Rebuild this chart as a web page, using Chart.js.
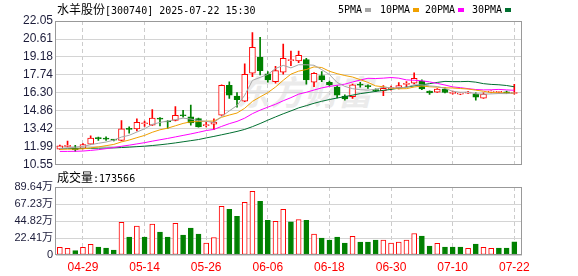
<!DOCTYPE html>
<html>
<head>
<meta charset="utf-8">
<script src="https://cdn.jsdelivr.net/npm/chart.js@4.4.1/dist/chart.umd.min.js"></script>
<style>
    body { margin: 0; background: #fff; width: 578px; height: 276px; overflow: hidden; position: relative; }
    canvas { position: absolute; left: 0; }
    #price { top: 0; }
    #vol { top: 170px; }
    .txt { position: absolute; font: 10px 'DejaVu Sans Mono', monospace; color: #000; white-space: pre; line-height: 12px; }
    .cn { font-family: 'Noto Sans CJK SC'; font-size: 12px; }
    .sw { position: absolute; width: 6px; height: 4px; }
    #mark { position: absolute; left: 236px; top: 66px; font: italic bold 34px 'Noto Sans CJK SC'; color: #ebebeb; white-space: nowrap; }
</style>
</head>
<body>
<div id="mark">东方财富</div>
<canvas id="price" width="578" height="175"></canvas>
<canvas id="vol" width="578" height="106"></canvas>
<div class="txt" style="left:57px;top:3px"><span class="cn">水羊股份</span>[300740] 2025-07-22 15:30</div>
<div class="txt" style="left:57px;top:171px"><span class="cn">成交量</span>:173566</div>
<div id="legend"></div>

<script>
/* trading days shown */
const dates = ['04-24','04-25','04-28','04-29','04-30','05-06','05-07','05-08','05-09','05-12',
    '05-13','05-14','05-15','05-16','05-19','05-20','05-21','05-22','05-23','05-26',
    '05-27','05-28','05-29','05-30','06-03','06-04','06-05','06-06','06-09','06-10',
    '06-11','06-12','06-13','06-16','06-17','06-18','06-19','06-20','06-23','06-24',
    '06-25','06-26','06-27','06-30','07-01','07-02','07-03','07-04','07-07','07-08',
    '07-09','07-10','07-11','07-14','07-15','07-16','07-17','07-18','07-21','07-22'];
const tickDates = ['04-29','05-14','05-26','06-06','06-18','06-30','07-10','07-22'];

/* daily prices */
const opens = [11.80,12.02,11.88,11.85,12.20,12.67,12.64,12.55,12.50,13.45,
    13.42,13.83,13.72,14.25,14.05,14.09,14.52,14.38,14.25,13.68,
    13.80,14.52,16.91,16.05,15.64,17.87,19.15,17.82,17.20,17.95,
    18.88,18.85,18.96,17.15,17.68,17.15,16.77,16.05,16.00,17.00,
    16.85,16.55,16.46,16.64,16.67,16.98,17.07,17.25,16.45,16.36,
    16.60,16.26,16.20,16.28,16.21,15.88,16.36,16.34,16.38,16.25];
const closes = [12.07,12.10,11.76,12.17,12.68,12.64,12.60,12.52,13.42,13.38,
    13.95,13.87,14.28,14.20,13.97,14.50,14.47,13.90,13.58,13.72,
    13.96,16.91,16.12,15.75,17.79,19.95,18.08,17.34,18.08,19.07,
    18.94,19.31,17.34,17.87,17.36,16.95,16.12,15.82,16.95,16.92,
    16.80,16.48,16.66,16.70,16.88,17.05,17.47,16.62,16.30,16.60,
    16.33,16.30,16.22,16.34,15.95,16.20,16.40,16.36,16.30,16.27];
const highs = [12.12,12.45,12.10,12.25,12.87,12.76,12.78,12.58,14.08,13.58,
    14.22,14.05,14.97,14.33,14.08,15.20,14.90,15.33,14.28,13.95,
    14.22,16.95,17.18,16.32,18.62,21.12,20.75,18.00,18.43,20.21,
    19.65,19.65,19.07,17.92,18.00,17.25,16.88,16.14,17.00,17.15,
    16.95,16.62,16.88,16.85,17.12,17.20,17.90,17.35,16.47,16.65,
    16.70,16.45,16.30,16.42,16.30,16.30,16.46,16.43,16.45,16.98];
const lows = [11.78,11.98,11.62,11.82,12.18,12.50,12.50,12.45,12.45,13.08,
    13.25,13.62,13.70,13.66,13.45,14.05,14.36,13.72,13.55,13.58,
    13.35,14.50,15.85,15.15,15.60,17.60,17.74,17.15,17.07,17.79,
    18.48,18.72,17.00,16.80,17.20,16.85,15.90,15.72,15.85,16.75,
    16.65,16.40,16.08,16.52,16.62,16.80,17.02,16.55,16.18,16.33,
    16.30,16.20,16.15,16.25,15.72,15.86,16.30,16.30,16.26,16.20];

/* moving averages as drawn */
const ma5 = [11.85,11.90,11.95,12.02,12.16,12.27,12.37,12.52,12.77,12.91,
    13.17,13.43,13.78,13.94,14.05,14.16,14.28,14.21,14.08,14.03,
    13.93,14.41,14.86,15.29,16.11,17.30,17.54,17.78,18.25,18.50,
    18.30,18.55,18.55,18.51,18.16,17.77,17.13,16.82,16.64,16.55,
    16.52,16.59,16.76,16.71,16.70,16.75,16.95,16.94,16.86,16.81,
    16.66,16.43,16.35,16.36,16.23,16.20,16.22,16.25,16.24,16.31];
const ma10 = [11.78,11.80,11.80,11.83,11.90,11.98,12.08,12.18,12.38,12.53,
    12.72,12.90,13.15,13.35,13.48,13.67,13.86,13.99,14.01,14.04,
    14.05,14.35,14.53,14.69,15.07,15.62,15.98,16.32,16.77,17.31,
    17.80,18.04,18.17,18.38,18.33,18.03,17.84,17.69,17.57,17.36,
    17.14,16.86,16.79,16.68,16.63,16.64,16.77,16.85,16.79,16.76,
    16.71,16.69,16.65,16.61,16.52,16.43,16.33,16.30,16.30,16.27];
const ma20 = [11.62,11.62,11.63,11.65,11.70,11.76,11.84,11.93,12.03,12.12,
    12.22,12.32,12.44,12.55,12.66,12.78,12.90,13.02,13.15,13.29,
    13.38,13.62,13.84,14.02,14.28,14.64,14.92,15.16,15.39,15.67,
    15.92,16.20,16.35,16.53,16.70,16.82,16.91,17.00,17.17,17.33,
    17.47,17.45,17.48,17.53,17.48,17.34,17.31,17.27,17.18,17.06,
    16.93,16.78,16.72,16.64,16.57,16.54,16.55,16.58,16.54,16.51];
const ma30 = [11.86,11.86,11.86,11.87,11.87,11.88,11.89,11.90,11.93,11.96,
    12.00,12.04,12.09,12.15,12.22,12.30,12.39,12.48,12.57,12.70,
    12.82,12.95,13.08,13.22,13.38,13.60,13.85,14.12,14.38,14.63,
    14.86,15.10,15.28,15.47,15.63,15.77,15.89,16.00,16.12,16.24,
    16.33,16.42,16.50,16.58,16.68,16.76,16.86,16.95,17.04,17.14,
    17.22,17.20,17.20,17.22,17.16,17.04,16.98,16.95,16.89,16.79];

/* volume, in 万 */
const volumes = [10.0,8.7,5.7,10.0,14.0,10.5,9.2,6.6,43.2,23.6,
    38.0,23.6,40.6,30.1,23.6,41.9,26.2,35.4,27.5,15.7,
    23.1,64.2,60.3,51.1,69.4,83.8,70.7,45.8,44.5,60.3,
    43.7,46.7,45.8,27.5,22.3,19.7,23.6,15.7,24.5,17.0,
    17.0,19.7,19.7,15.7,17.0,19.7,28.4,24.9,11.8,15.3,
    10.5,10.5,10.5,8.7,14.4,10.0,8.7,9.2,9.2,17.36];

const priceTicks = [10.55, 11.99, 13.42, 14.86, 16.30, 17.74, 19.18, 20.61, 22.05];
const volTicks = [0, 22.41, 44.82, 67.23, 89.64];
const maNames = ['5PMA', '10PMA', '20PMA', '30PMA'];

const RED = '#ff0000', GREEN = '#008000';
const maColors = ['#a6a6a6', '#f0a000', '#ff00ff', '#006f30'];

const idx = dates.map((d, i) => i);
const tickIdx = tickDates.map(d => dates.indexOf(d));
const candleUp = closes.map((c, i) => c >= opens[i]);
const volUp = closes.map((c, i) => i === 0 ? candleUp[0] : c >= closes[i - 1]);

/* legend in the header */
const legend = document.getElementById('legend');
const legendX = [338, 380, 425, 472];
maNames.forEach((n, k) => {
    const t = document.createElement('div');
    t.className = 'txt';
    t.style.left = legendX[k] + 'px';
    t.style.top = '4px';
    t.textContent = n;
    legend.appendChild(t);
    const s = document.createElement('div');
    s.className = 'sw';
    s.style.left = (legendX[k] + n.length * 6 + 3) + 'px';
    s.style.top = '8px';
    s.style.background = maColors[k];
    legend.appendChild(s);
});

/* frame round the plot area */
const frame = {
    id: 'frame',
    afterDraw(chart) {
        const {ctx, chartArea: a} = chart;
        ctx.save();
        ctx.strokeStyle = '#999';
        ctx.lineWidth = 1;
        ctx.strokeRect(Math.round(a.left) - 0.5, Math.round(a.top) + 0.5,
            Math.round(a.right - a.left), Math.round(a.bottom - a.top) - 1);
        ctx.restore();
    }
};

function xAxis(showLabels) {
    return {
        type: 'linear', min: -0.5, max: 60, offset: false,
        afterBuildTicks: s => { s.ticks = tickIdx.map(v => ({value: v})); },
        afterFit: s => { s.height = showLabels ? 21 : 0; },
        grid: {offset: false, color: '#cccccc', drawTicks: false},
        border: {display: false, dash: [4, 3]},
        ticks: {
            display: showLabels, autoSkip: false, maxRotation: 0, padding: 5,
            color: RED, font: {family: 'Liberation Sans', size: 12},
            callback: v => dates[v]
        }
    };
}

function yAxis(min, max, values, fmt, font) {
    return {
        min: min, max: max,
        afterBuildTicks: s => { s.ticks = values.map(v => ({value: v})); },
        afterFit: s => { s.width = 56; },
        grid: {color: '#d4d4d4', drawTicks: false},
        border: {display: false},
        ticks: {color: '#1c1c3a', padding: 3, font: font, callback: fmt}
    };
}

const common = {
    responsive: false,
    animation: false,
    devicePixelRatio: 1,
    plugins: {legend: {display: false}, tooltip: {enabled: false}}
};

/* price chart: candles drawn as floating bars */
const maSeries = [ma5, ma10, ma20, ma30];
new Chart(document.getElementById('price'), {
    type: 'bar',
    data: {
        datasets: [
            ...maSeries.map((s, k) => ({
                type: 'line',
                label: maNames[k],
                data: idx.map(i => ({x: i, y: s[i]})),
                borderColor: maColors[k],
                borderWidth: 1,
                pointRadius: 0,
                tension: 0,
                order: 0
            })),
            {
                label: 'body',
                data: idx.map(i => ({x: i, y: [opens[i], closes[i]]})),
                backgroundColor: c => candleUp[c.dataIndex] ? '#ffffff' : GREEN,
                borderColor: c => candleUp[c.dataIndex] ? RED : GREEN,
                borderWidth: 1,
                borderSkipped: false,
                barThickness: 6,
                minBarLength: 1,
                grouped: false,
                order: 1
            },
            {
                label: 'wick',
                data: idx.map(i => ({x: i, y: [lows[i], highs[i]]})),
                backgroundColor: c => candleUp[c.dataIndex] ? RED : GREEN,
                barThickness: 1,
                grouped: false,
                order: 2
            }
        ]
    },
    options: {
        ...common,
        layout: {padding: {top: 21, right: 56, bottom: 10, left: 0}},
        scales: {
            x: xAxis(false),
            y: yAxis(10.55, 22.05, priceTicks, v => v.toFixed(2), {family: 'Liberation Sans', size: 12})
        }
    },
    plugins: [frame]
});

/* volume chart */
new Chart(document.getElementById('vol'), {
    type: 'bar',
    data: {
        datasets: [{
            label: '成交量',
            data: idx.map(i => ({x: i, y: volumes[i]})),
            backgroundColor: c => volUp[c.dataIndex] ? '#ffffff' : GREEN,
            borderColor: c => volUp[c.dataIndex] ? RED : GREEN,
            borderWidth: 1,
            borderSkipped: false,
            barThickness: 5
        }]
    },
    options: {
        ...common,
        layout: {padding: {top: 17, right: 56, bottom: 0, left: 0}},
        scales: {
            x: xAxis(true),
            y: yAxis(0, 89.64, volTicks, v => v === 0 ? '0' : v.toFixed(2) + '万',
                {family: "'Liberation Sans Narrow', 'Liberation Sans', 'Noto Sans CJK SC'", size: 11})
        }
    },
    plugins: [frame]
});
</script>
</body>
</html>
